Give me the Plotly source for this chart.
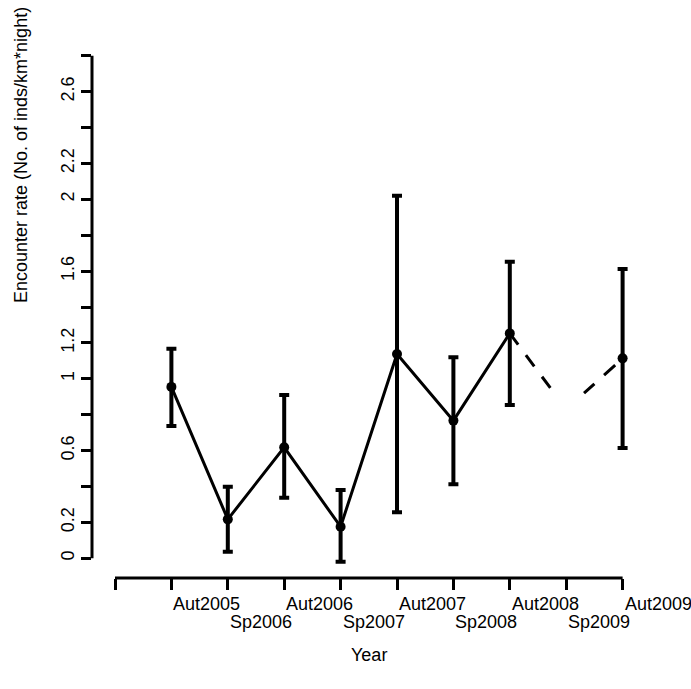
import plotly.graph_objects as go

# ---- data ----
categories = ["Aut2005", "Sp2006", "Aut2006", "Sp2007", "Aut2007",
              "Sp2008", "Aut2008", "Sp2009", "Aut2009"]
rate = [0.955, 0.217, 0.618, 0.176, 1.138, 0.767, 1.253, None, 1.114]
upper = [1.168, 0.399, 0.910, 0.381, 2.020, 1.120, 1.652, None, 1.612]
lower = [0.737, 0.036, 0.338, -0.019, 0.256, 0.412, 0.854, None, 0.615]
sp2009_estimate = 0.83          # vertex of the dashed connection (no estimate shown)

y_tick_values = [0, 0.2, 0.4, 0.6, 0.8, 1.0, 1.2, 1.4, 1.6, 1.8, 2.0, 2.2, 2.4, 2.6, 2.8]
y_tick_labels = ["0", "0.2", "", "0.6", "", "1", "1.2", "", "1.6", "", "2", "2.2", "", "2.6", ""]
x_tick_values = list(range(0, len(categories) + 1))

# ---- layout geometry ----
W, H = 691, 689
L, R, T, B = 92, 31, 40, 111
plot_w, plot_h = W - L - R, H - T - B
x0_px, x_per = 115.0, 56.4        # pixel of x=0, pixels per unit
y0_px, y_per = 558.3, 179.5       # pixel of y=0, pixels per unit
x_range = [(L - x0_px) / x_per, (W - R - x0_px) / x_per]
y_range = [(y0_px - (H - B)) / y_per, (y0_px - T) / y_per]


def paper_x(px):
    return (px - L) / plot_w


def paper_y(py):
    return ((H - B) - py) / plot_h


xpos = list(range(1, len(categories) + 1))
err_up = [None if m is None else u - m for m, u in zip(rate, upper)]
err_dn = [None if m is None else m - l for m, l in zip(rate, lower)]

fig = go.Figure()

# dashed connection across the missing Sp2009 estimate
i8, i9, i10 = 6, 7, 8
fig.add_trace(go.Scatter(
    x=[xpos[i8], xpos[i9]], y=[rate[i8], sp2009_estimate], mode="lines",
    line=dict(color="black", width=3, dash="14px,13px,14px,13px,14px,60px"),
    hoverinfo="skip", showlegend=False))
fig.add_trace(go.Scatter(
    x=[xpos[i10], xpos[i9]], y=[rate[i10], sp2009_estimate], mode="lines",
    line=dict(color="black", width=3, dash="0px,10px,15px,13px,14px,40px"),
    hoverinfo="skip", showlegend=False))

# main series with error bars
fig.add_trace(go.Scatter(
    x=xpos, y=rate, mode="lines+markers",
    line=dict(color="black", width=3),
    marker=dict(color="black", size=10),
    error_y=dict(type="data", array=err_up, arrayminus=err_dn, symmetric=False,
                 color="black", thickness=4, width=5),
    connectgaps=False, showlegend=False, cliponaxis=False))

# detached R-style axis lines spanning only the tick range
fig.add_shape(type="line", xref="x", yref="paper",
              x0=x_tick_values[0], x1=x_tick_values[-1], y0=0, y1=0,
              line=dict(color="black", width=3))
fig.add_shape(type="line", xref="paper", yref="y",
              x0=0, x1=0, y0=y_tick_values[0], y1=y_tick_values[-1],
              line=dict(color="black", width=3))

# staggered, left-justified category labels (Aut on first row, Sp on second)
annotations = []
for xp, cat in zip(xpos, categories):
    row_y = 604 if cat.startswith("Aut") else 622
    annotations.append(dict(text=cat, xref="x", yref="paper", x=xp, y=paper_y(row_y),
                            xanchor="left", yanchor="middle", showarrow=False))
annotations += [
    dict(text="Year", xref="x", yref="paper", x=4.5, y=paper_y(655),
         xanchor="center", yanchor="middle", showarrow=False),
    dict(text="Encounter rate (No. of inds/km*night)", xref="paper", yref="paper",
         x=paper_x(21), y=paper_y(155), textangle=-90,
         xanchor="center", yanchor="middle", showarrow=False),
]

fig.update_layout(
    width=W, height=H,
    margin=dict(l=L, r=R, t=T, b=B),
    paper_bgcolor="white", plot_bgcolor="white",
    font=dict(family="Liberation Sans, Arial, sans-serif", size=18, color="black"),
    xaxis=dict(range=x_range, tickvals=x_tick_values, showticklabels=False,
               ticks="outside", ticklen=11, tickwidth=3, tickcolor="black",
               showgrid=False, zeroline=False, showline=False),
    yaxis=dict(range=y_range, tickvals=y_tick_values, ticktext=y_tick_labels,
               ticks="outside", ticklen=10, tickwidth=3, tickcolor="black",
               tickangle=-90,
               showgrid=False, zeroline=False, showline=False),
    annotations=annotations,
)

fig.write_html("out.html", config={"displayModeBar": False},
               post_script="document.body.style.margin='0';document.body.style.overflow='hidden';")
